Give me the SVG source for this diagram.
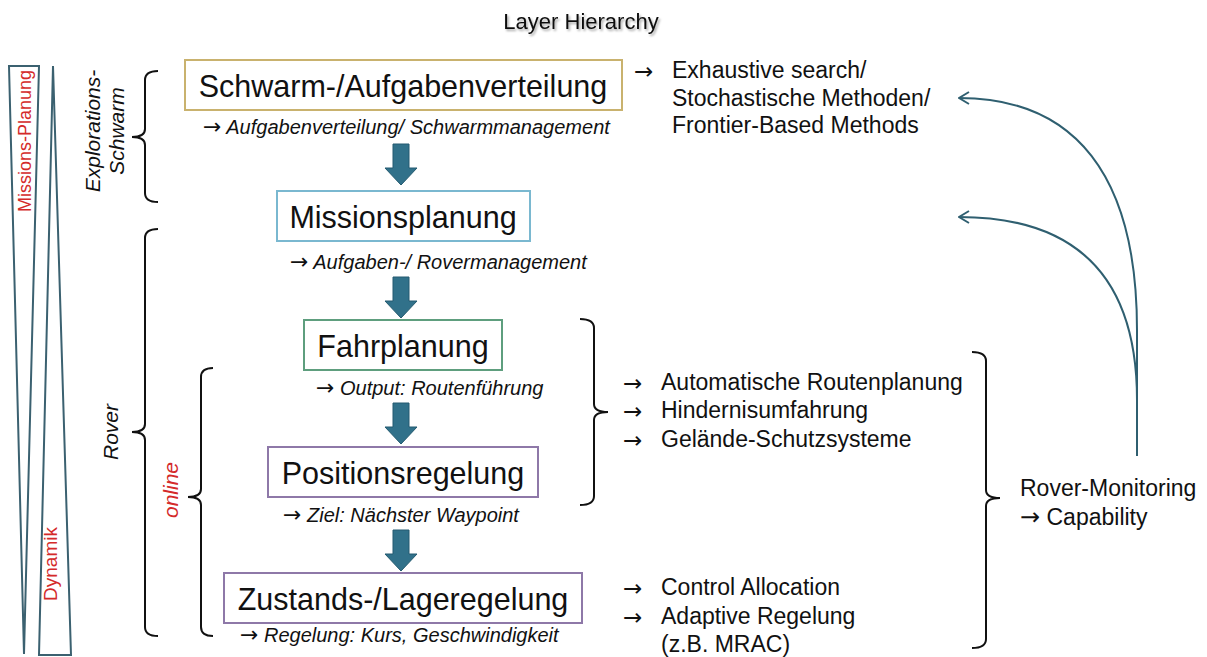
<svg xmlns="http://www.w3.org/2000/svg" width="1207" height="657" viewBox="0 0 1207 657">
<defs>
<style>
.t{font-family:"Liberation Sans",Arial,sans-serif;fill:#111}
.ar{font-family:"DejaVu Sans",sans-serif}
.box{fill:#fff;stroke-width:2}
.bt{font-size:30.5px;text-anchor:middle}
.sub{font-size:20px;font-style:italic}
.rt{font-size:23px}
.side{font-size:21px;font-style:italic;text-anchor:middle}
.red{fill:#d42a2a}
.brace{fill:none;stroke:#111;stroke-width:2}
.tri{fill:none;stroke:#3b6170;stroke-width:2}
.curve{fill:none;stroke:#2f5f70;stroke-width:2}
.blk{fill:#31718a;stroke:#245b70;stroke-width:1}
</style>
<filter id="sh" x="-10%" y="-30%" width="130%" height="180%">
<feDropShadow dx="1.5" dy="2" stdDeviation="1.2" flood-color="#000" flood-opacity="0.35"/>
</filter>
<marker id="chev" viewBox="0 0 12 14" refX="11" refY="7" markerWidth="12" markerHeight="14" markerUnits="userSpaceOnUse" orient="auto">
<path d="M1,1 L11,7 L1,13" fill="none" stroke="#2f5f70" stroke-width="2"/>
</marker>
<path id="blockArrow" class="blk" d="M-8,0 H8 V24 H16 L0,41 L-16,24 H-8 Z"/>
</defs>
<rect width="1207" height="657" fill="#fff"/>

<text id="title" class="t" x="581" y="29" font-size="22" text-anchor="middle" filter="url(#sh)">Layer Hierarchy</text>

<g id="scale-triangles">
<polygon class="tri" points="9,66 39,66 24,654"/>
<polygon class="tri" points="53,66 71,655 39,655"/>
<text class="t red" font-size="18" transform="translate(31,141) rotate(-90)" text-anchor="middle">Missions-Planung</text>
<text class="t red" font-size="19" transform="translate(57,564) rotate(-90)" text-anchor="middle">Dynamik</text>
</g>

<g id="brace-explorations">
<path class="brace" d="M158,71 Q145,71 145,80 L145,129 Q145,137 132,137 Q145,137 145,145 L145,193 Q145,202 158,202"/>
<text class="t side" transform="translate(100,131) rotate(-90)">Explorations-</text>
<text class="t side" transform="translate(124,131) rotate(-90)">Schwarm</text>
</g>
<g id="brace-rover">
<path class="brace" d="M158,229 Q145,229 145,238 L145,424 Q145,432 132,432 Q145,432 145,440 L145,627 Q145,636 158,636"/>
<text class="t side" transform="translate(118,432) rotate(-90)">Rover</text>
</g>
<g id="brace-online">
<path class="brace" d="M213,368 Q201,368 201,377 L201,489 Q201,497 188,497 Q201,497 201,505 L201,627 Q201,636 213,636"/>
<text class="t side red" transform="translate(178,490) rotate(-90)">online</text>
</g>

<g id="node-schwarm">
<rect class="box" x="185" y="60" width="437" height="50" stroke="#c9b26e"/>
<text class="t bt" x="403" y="97">Schwarm-/Aufgabenverteilung</text>
<text class="t sub" x="203" y="134"><tspan class="ar" font-size="22">→</tspan> Aufgabenverteilung/ Schwarmmanagement</text>
</g>
<g id="node-mission">
<rect class="box" x="277" y="191" width="253" height="50" stroke="#7ab8d0"/>
<text class="t bt" x="403" y="228">Missionsplanung</text>
<text class="t sub" x="290" y="269"><tspan class="ar" font-size="22">→</tspan> Aufgaben-/ Rovermanagement</text>
</g>
<g id="node-fahr">
<rect class="box" x="304" y="320" width="198" height="50" stroke="#5e9e7e"/>
<text class="t bt" x="403" y="357">Fahrplanung</text>
<text class="t sub" x="316" y="395"><tspan class="ar" font-size="22">→</tspan> Output: Routenführung</text>
</g>
<g id="node-position">
<rect class="box" x="268" y="447" width="270" height="50" stroke="#8e78a8"/>
<text class="t bt" x="403" y="484">Positionsregelung</text>
<text class="t sub" x="283" y="522"><tspan class="ar" font-size="22">→</tspan> Ziel: Nächster Waypoint</text>
</g>
<g id="node-zustand">
<rect class="box" x="224" y="573" width="358" height="50" stroke="#8e78a8"/>
<text class="t bt" x="403" y="610">Zustands-/Lageregelung</text>
<text class="t sub" x="240" y="642"><tspan class="ar" font-size="22">→</tspan> Regelung: Kurs, Geschwindigkeit</text>
</g>

<g id="connectors">
<use href="#blockArrow" x="401" y="144"/>
<use href="#blockArrow" x="401" y="277"/>
<use href="#blockArrow" x="401" y="403"/>
<use href="#blockArrow" x="401" y="530"/>
<path class="curve" d="M1137,456 L1137,330 C1137,175 1075,98 959,98" marker-end="url(#chev)"/>
<path class="curve" d="M1137,400 C1137,275 1075,217 959,217" marker-end="url(#chev)"/>
</g>

<g id="list-exploration">
<text class="t rt ar" x="634" y="79" font-size="25">→</text>
<text class="t rt" x="672" y="78">Exhaustive search/</text>
<text class="t rt" x="672" y="106">Stochastische Methoden/</text>
<text class="t rt" x="672" y="133">Frontier-Based Methods</text>
</g>

<g id="brace-fahr">
<path class="brace" d="M580,319 Q594,319 594,328 L594,404 Q594,412 608,412 Q594,412 594,420 L594,496 Q594,505 580,505"/>
</g>
<g id="list-fahr">
<text class="t rt ar" x="623" y="391" font-size="25">→</text>
<text class="t rt" x="661" y="390">Automatische Routenplanung</text>
<text class="t rt ar" x="623" y="419" font-size="25">→</text>
<text class="t rt" x="661" y="418">Hindernisumfahrung</text>
<text class="t rt ar" x="623" y="448" font-size="25">→</text>
<text class="t rt" x="661" y="447">Gelände-Schutzsysteme</text>
</g>
<g id="list-zustand">
<text class="t rt ar" x="623" y="596" font-size="25">→</text>
<text class="t rt" x="661" y="595">Control Allocation</text>
<text class="t rt ar" x="623" y="625" font-size="25">→</text>
<text class="t rt" x="661" y="624">Adaptive Regelung</text>
<text class="t rt" x="661" y="652">(z.B. MRAC)</text>
</g>

<g id="brace-monitoring">
<path class="brace" d="M972,352 Q986,352 986,361 L986,490 Q986,498 1000,498 Q986,498 986,506 L986,639 Q986,648 972,648"/>
</g>
<g id="node-monitoring">
<text class="t rt" x="1020" y="496">Rover-Monitoring</text>
<text class="t rt" x="1020" y="525"><tspan class="ar" font-size="24">→</tspan> Capability</text>
</g>
</svg>
